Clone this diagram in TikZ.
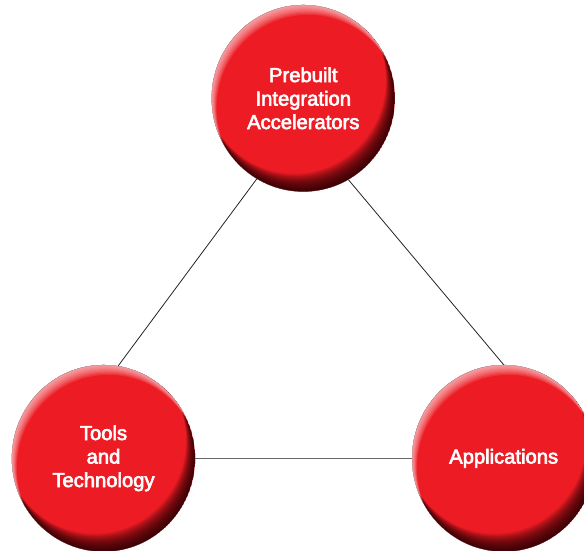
\documentclass[tikz,border=0pt]{standalone}
\usepackage{fontspec}
\setmainfont{Liberation Sans}[FakeBold=3]
\usetikzlibrary{shapes.geometric}
\definecolor{ballred}{RGB}{237,28,36}
\definecolor{ballshadow}{RGB}{30,0,3}
\definecolor{linedark}{RGB}{35,35,35}
\definecolor{linegray}{RGB}{105,105,105}
\tikzset{
  ball/.style={ellipse, minimum width=183.3pt, minimum height=186.7pt, inner sep=0pt,
    fill=ballred},
  balltext/.style={ellipse, minimum width=183.3pt, minimum height=186.7pt, inner sep=0pt,
    text=white, align=center, font=\fontsize{20.2}{23.5}\selectfont},
  conn/.style={draw=linedark, line width=0.8pt},
  connh/.style={draw=linegray, line width=1.2pt},
  hilite/.style={white, fill opacity=0.09, even odd rule},
  shadowlayer/.style={ballshadow, fill opacity=0.1, even odd rule}
}
\newcommand\ballshading[1]{%
  \begin{scope}
    \clip (#1.center) ellipse [x radius=91.65, y radius=93.35];
    \foreach \k in {1,...,16}
      \fill[shadowlayer] (#1.center) ellipse [x radius=91.65, y radius=93.35]
        ([shift={(-0.56*\k,-1.12*\k)}]#1.center) ellipse [x radius=91.65, y radius=93.35];
    \foreach \k in {1,...,9}
      \fill[hilite] (#1.center) ellipse [x radius=91.65, y radius=93.35]
        ([shift={(0.55*\k,1.1*\k)}]#1.center) ellipse [x radius=91.65, y radius=93.35];
  \end{scope}}
\begin{document}
\begin{tikzpicture}[x=1pt,y=-1pt]
  \useasboundingbox (0,0) rectangle (584,550);
  \node[ball] (pia) at (303.3,98.3) {};
  \node[ball] (tt) at (103.5,458.3) {};
  \node[ball] (app) at (503.7,458.3) {};
  \ballshading{pia}
  \ballshading{tt}
  \ballshading{app}
  \node[balltext] (piat) at (pia.center) {Prebuilt\\Integration\\Accelerators};
  \node[balltext] (ttt) at (tt.center) {Tools\\and\\Technology};
  \node[balltext] (appt) at (app.center) {Applications};
  \draw[conn] (pia.240.5) -- (tt.81.8);
  \draw[conn] (pia.299.5) -- (app.90.4);
  \draw[connh] (tt.east) -- (app.west);
\end{tikzpicture}
\end{document}
